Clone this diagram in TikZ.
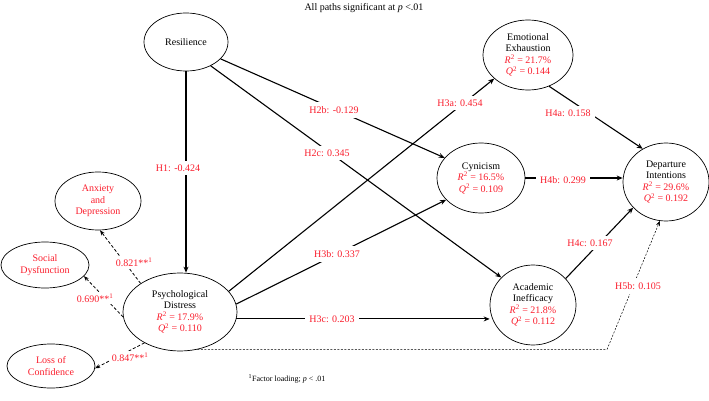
\documentclass[tikz,border=0pt]{standalone}
\usepackage{fontspec}
\setmainfont{Liberation Serif}
\usetikzlibrary{shapes.geometric,arrows.meta}
\definecolor{lred}{RGB}{250,30,45}
\newcommand{\rstat}[1]{\textcolor{lred}{\textit{R}\textsuperscript{2} = #1}}
\newcommand{\qstat}[1]{\textcolor{lred}{\textit{Q}\textsuperscript{2} = #1}}
\begin{document}
\begin{tikzpicture}[x=1pt,y=-1pt,
  every node/.style={font=\fontsize{10}{11.5}\selectfont},
  lat/.style={ellipse,draw,line width=0.7pt,inner sep=0pt,align=center},
  lab/.style={text=lred,fill=white,inner xsep=4pt,inner ysep=4pt},
  arr/.style={line width=1.1pt,-{Stealth[length=6pt,width=5pt]}},
  load/.style={line width=0.8pt,dash pattern=on 3pt off 2pt,-{Stealth[length=5pt,width=4pt]}},
  dot/.style={line width=0.5pt,dash pattern=on 2pt off 1.5pt,-{Stealth[length=5pt,width=4pt]}}]
\useasboundingbox (0,0) rectangle (709,401);
% nodes
\node[lat,minimum width=84,minimum height=58] (res) at (186,42) {Resilience};
\node[lat,minimum width=90,minimum height=70] (ee) at (528,55) {Emotional\\Exhaustion\\\rstat{21.7\%}\\\qstat{0.144}};
\node[lat,minimum width=88,minimum height=70] (cyn) at (481,178) {Cynicism\\\rstat{16.5\%}\\\qstat{0.109}};
\node[lat,minimum width=86,minimum height=78] (di) at (666,182) {Departure\\Intentions\\\rstat{29.6\%}\\\qstat{0.192}};
\node[lat,minimum width=86,minimum height=80] (ai) at (533,305) {Academic\\Inefficacy\\\rstat{21.8\%}\\\qstat{0.112}};
\node[lat,minimum width=114,minimum height=78] (pd) at (180,312) {Psychological\\Distress\\\rstat{17.9\%}\\\qstat{0.110}};
\node[lat,minimum width=86,minimum height=58,text=lred] (anx) at (98,201) {Anxiety\\and\\Depression};
\node[lat,minimum width=88,minimum height=46,text=lred] (sd) at (45,265) {Social\\Dysfunction};
\node[lat,minimum width=88,minimum height=44,text=lred] (loc) at (51,366) {Loss of\\Confidence};
\node (title) at (364,8) {All paths significant at \textit{p} <.01};
\node[font=\fontsize{8}{9}\selectfont] (foot) at (287,379) {\textsuperscript{1}Factor loading; \textit{p} < .01};
\coordinate (h5) at (607,351);
% structural paths
\draw[arr] (res.south) -- (res.south |- pd.north);
\draw[arr] (res.-26) -- (cyn.151);
\draw[arr] (res.-44) -- (ai.139);
\draw[arr] (pd.23) -- (ee.215);
\draw[arr] (pd.8) -- (cyn.212);
\draw[arr] (pd.-7) -- (pd.-7 -| ai.west);
\draw[arr] (ee.-56) -- (di.125);
\draw[arr] (cyn.east) -- (cyn.east -| di.west);
\draw[arr] (ai.39) -- (di.218);
\draw[dot] (pd.-65) -- (pd.-65 -| h5) -- (di.-99);
% loadings
\draw[load] (pd.144) -- (anx.-86);
\draw[load] (pd.185) -- (sd.-16);
\draw[load] (pd.221) -- (loc.-3);
% labels
\node[lab] (l1) at (178,168) {H1: -0.424};
\node[lab] (l2b) at (334,110) {H2b: -0.129};
\node[lab] (l2c) at (327,153) {H2c: 0.345};
\node[lab] (l3a) at (460,103) {H3a: 0.454};
\node[lab] (l3b) at (337,254) {H3b: 0.337};
\node[lab] (l3c) at (332,319) {H3c: 0.203};
\node[lab] (l4a) at (568,113) {H4a: 0.158};
\node[lab] (l4b) at (563,180) {H4b: 0.299};
\node[lab] (l4c) at (590,243) {H4c: 0.167};
\node[lab] (l5b) at (638,286) {H5b: 0.105};
\node[lab,inner sep=2pt] (la) at (134,262) {0.821**\textsuperscript{1}};
\node[lab,inner sep=2pt] (ls) at (95,298) {0.690**\textsuperscript{1}};
\node[lab,inner sep=2pt] (lc) at (130,357) {0.847**\textsuperscript{1}};
\end{tikzpicture}
\end{document}
